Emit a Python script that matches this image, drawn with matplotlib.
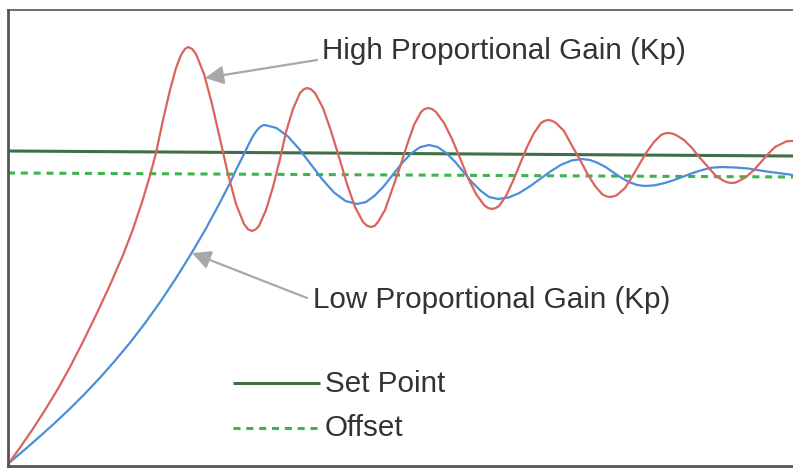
import matplotlib
matplotlib.use('Agg')
import matplotlib.pyplot as plt

# time axis and responses (arbitrary units)
high_t = [1, 12, 25, 37, 50, 62, 75, 89, 102, 115, 125, 135, 142, 148,
          155, 162, 168, 173, 177, 180,
          184, 188, 196, 204, 212, 220, 228, 236, 240, 244,
          247.4, 251, 258, 265, 272, 278, 285, 292, 295.6, 299,
          303, 307, 315, 323, 331, 339, 347, 355, 359, 363,
          366.6, 370, 377, 384, 392, 399, 406, 413, 416.4, 420,
          424, 428, 436, 444, 452, 460, 468, 476, 480, 484,
          487.5, 491, 498, 505, 512, 519, 526, 533, 536.5, 540,
          543.9, 548, 556, 563, 571, 579, 587, 594, 598.1, 602,
          605.6, 609, 617, 624, 631, 638, 646, 653, 656.4, 660,
          664, 668, 676, 684, 692, 700, 708, 716, 720, 724,
          727.6, 731, 738, 746, 753, 760, 767, 775, 778.4, 782, 785]
high_y = [3, 18.4, 37.3, 55.9, 77.3, 98.9, 124.3, 153, 181, 210.9, 236.9, 266.9, 290.7, 313,
          346, 376, 398, 411, 417, 419,
          417.2, 412, 392, 362, 327, 292, 262, 242, 236.8, 235,
          236.4, 240, 256, 279, 307, 334, 357, 373, 376.6, 378,
          376.7, 373, 358, 335, 309, 282, 259, 244, 240.3, 239,
          240.1, 244, 256, 276, 299, 321, 341, 354, 356.9, 358,
          357, 354, 343, 327, 308, 288, 272, 261, 258, 257,
          257.9, 260, 270, 285, 302, 319, 333, 343, 345.1, 346,
          345.3, 343, 335, 322, 308, 293, 280, 272, 269.7, 269,
          269.6, 271, 278, 289, 301, 313, 324, 331, 332.4, 333,
          332.5, 331, 326, 318, 308, 299, 290, 285, 283.5, 283,
          283.4, 285, 289, 296, 304, 312, 319, 323, 324.6, 325, 325]

low_t = [1, 17, 32, 47, 62, 77, 92, 107, 122, 137, 152, 167, 182, 197, 210,
         222, 228, 232, 237, 240, 243, 246, 249, 252, 255, 257,
         268.5, 280, 291.5, 303, 314.5, 326, 337.5, 349,
         358, 367, 376, 385, 394, 403, 412, 421,
         429.6, 438.3, 447, 455.5, 464, 473, 481, 490,
         500.5, 511, 521.5, 532, 542.5, 553, 563.5, 574,
         582, 590, 598, 605.5, 613, 621, 629, 637,
         646.6, 656, 666, 675.5, 685, 695, 704, 714,
         727, 740, 749, 762, 774, 785]
low_y = [3, 16.6, 29.7, 43.2, 57.4, 72.4, 88.3, 105.3, 123.3, 142.8, 163.8, 186.3, 210.3, 235.8, 259.8,
         283, 296, 304, 314, 320.3, 326.3, 331.5, 335.8, 339, 340.7, 341,
         338, 329.5, 316.6, 301.5, 286.4, 273.5, 265, 262,
         264, 270.6, 280, 291.5, 302.8, 312.4, 318.8, 321,
         319, 313, 304.3, 294, 283.7, 275, 269, 267,
         268.5, 272.8, 279.4, 287, 294.6, 301.2, 305.5, 307,
         306, 303, 298.7, 293.5, 288.4, 284, 281, 280,
         280.7, 282.8, 285.9, 289.5, 293.1, 296.2, 298.3, 299,
         298.5, 297.5, 296, 294, 292.5, 291]

setpoint_t = [0, 785]
setpoint_y = [315, 310]
offset_t = [0, 785]
offset_y = [293, 289]

RED = '#d9645e'
BLUE = '#4b8fdb'
DARK_GREEN = '#3f6f47'
LIGHT_GREEN = '#3fb44c'
TEXT = '#333333'
ARROW = '#a8a8a8'

plt.rcParams['font.family'] = ['Liberation Sans', 'DejaVu Sans']

fig = plt.figure(figsize=(7.93, 4.73), dpi=100)
ax = fig.add_axes([8 / 793, 7 / 473, 785 / 793, 456 / 473])

ax.plot(setpoint_t, setpoint_y, color=DARK_GREEN, lw=2.2, solid_capstyle='butt')
ax.plot(offset_t, offset_y, color=LIGHT_GREEN, lw=2.2, dashes=(2.3, 1.9))
ax.plot(low_t, low_y, color=BLUE, lw=1.6, solid_joinstyle='round')
ax.plot(high_t, high_y, color=RED, lw=1.6, solid_joinstyle='round')

# legend drawn by hand, like the original
ax.plot([225, 312], [83, 83], color=DARK_GREEN, lw=2.2, solid_capstyle='butt')
ax.plot([225, 314], [38, 38], color=LIGHT_GREEN, lw=2.2, dashes=(2.3, 1.9))
ax.text(317, 74, 'Set Point', fontsize=21.3, color=TEXT, va='baseline')
ax.text(317, 30, 'Offset', fontsize=21.3, color=TEXT, va='baseline')

arrow = dict(arrowstyle='-|>,head_length=0.8,head_width=0.4', color=ARROW,
             lw=1.6, mutation_scale=14, shrinkA=0, shrinkB=0)
ax.annotate('', xy=(197, 388), xytext=(309, 406), arrowprops=arrow)
ax.annotate('', xy=(184, 213), xytext=(299, 168), arrowprops=arrow)
ax.text(314, 407, 'High Proportional Gain (Kp)', fontsize=21.3, color=TEXT,
        va='baseline')
ax.text(305, 158, 'Low Proportional Gain (Kp)', fontsize=21.3, color=TEXT,
        va='baseline')

ax.set_xlim(0, 785)
ax.set_ylim(0, 456)
ax.set_xticks([])
ax.set_yticks([])
for side in ['left', 'bottom']:
    ax.spines[side].set_linewidth(2.0)
    ax.spines[side].set_color('#555555')
ax.spines['top'].set_linewidth(1.2)
ax.spines['top'].set_color('#555555')
ax.spines['right'].set_visible(False)

fig.savefig('out.png', dpi=100)
